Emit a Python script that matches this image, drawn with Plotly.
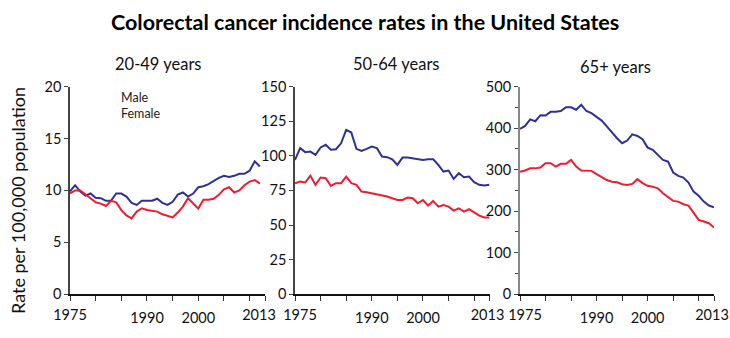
import plotly.graph_objects as go

years_a = list(range(1975, 2013))
years_b = list(range(1975, 2014))

male_2049 = [9.9, 10.5, 9.9, 9.5, 9.7, 9.3, 9.25, 9.0, 9.0, 9.7, 9.7, 9.4, 8.8, 8.6, 9.0, 9.0,
             9.0, 9.2, 8.8, 8.6, 8.9, 9.6, 9.8, 9.4, 9.7, 10.3, 10.4, 10.6, 10.9, 11.2, 11.4, 11.3,
             11.4, 11.6, 11.6, 11.9, 12.8, 12.3]
female_2049 = [9.7, 10.0, 10.0, 9.66, 9.25, 8.86, 8.73, 8.5, 9.0, 8.86, 8.1, 7.6, 7.3, 7.96, 8.28,
               8.12, 8.06, 7.96, 7.7, 7.58, 7.4, 7.87, 8.44, 9.25, 8.7, 8.25, 9.1, 9.1, 9.2, 9.57,
               10.1, 10.3, 9.8, 10.0, 10.5, 10.85, 11.0, 10.65]

male_5064 = [97, 105.5, 102.6, 103, 100.6, 106, 107.9, 104.3, 104.7, 109, 118.7, 116.8, 105, 103.5,
             105, 106.7, 105.5, 99.4, 99, 97.5, 93.4, 98.7, 98.7, 98.2, 97.8, 97, 97.5, 97.5, 93.4,
             88.6, 89.3, 83.3, 87.4, 84.5, 85, 80.9, 79, 78.5, 79]
female_5064 = [80.2, 81.4, 80.7, 85.7, 79, 84.3, 83.8, 78.3, 80.2, 80.2, 85, 80.2, 79, 74.2, 73.7,
               73, 71.8, 71.5, 70.6, 69.3, 68.1, 68.1, 69.8, 69.3, 65.7, 68.1, 64, 67.4, 63.3, 64.5,
               63.3, 60.4, 62.1, 59.7, 61.4, 59.2, 56.8, 55.4, 55.4]

male_65 = [398, 405, 421, 416.5, 431, 430, 439, 439, 441, 450, 450, 444, 456, 441, 436, 428, 418,
           404, 389, 375.6, 363.6, 370, 385, 381, 373, 353, 347.5, 335.5, 323.5, 319.5, 293, 285,
           281, 269, 247, 237, 223, 213.5, 209.5]
female_65 = [295, 298, 303, 303, 305, 315.4, 315.4, 307.4, 314, 314, 323.5, 307.4, 298, 297, 297,
             289, 281, 275, 271, 269.7, 265, 263, 265.7, 277, 267.5, 261, 259, 255, 243, 233.5,
             224.7, 223, 216.7, 213.5, 197.4, 179, 175, 171, 160.5]

panel_titles = ["20-49 years", "50-64 years", "65+ years"]
y_ranges = [[0, 20], [0, 150], [0, 500]]
y_dticks = [5, 25, 100]
x_tickvals = [1975, 1980, 1985, 1990, 1995, 2000, 2005, 2010, 2013]
mid_labels = {1990: "1990", 2000: "2000"}
start_year, end_year = 1975, 2013

MALE_C = "#2e3192"
FEMALE_C = "#ee1c2e"
W, H = 730, 338
FONT = "Lato, 'Open Sans', sans-serif"

x_px = [(70, 265), (295, 489.5), (520, 714)]
y_bot, y_top = 294.3, 86.5
start_shift = [0, 5, 5]
end_shift = [-6, -2, -2]

fig = go.Figure()
data = [(years_a, male_2049, female_2049), (years_b, male_5064, female_5064), (years_b, male_65, female_65)]
for i, (yrs, m, f) in enumerate(data):
    ax = "" if i == 0 else str(i + 1)
    fig.add_trace(go.Scatter(x=yrs, y=m, mode="lines", line=dict(color=MALE_C, width=2),
                             xaxis="x" + ax, yaxis="y" + ax, showlegend=False))
    fig.add_trace(go.Scatter(x=yrs, y=f, mode="lines", line=dict(color=FEMALE_C, width=2),
                             xaxis="x" + ax, yaxis="y" + ax, showlegend=False))

layout = dict(width=W, height=H, margin=dict(l=0, r=0, t=0, b=0, autoexpand=False), autosize=False,
              plot_bgcolor="white", paper_bgcolor="white",
              font=dict(family=FONT, size=14, color="#111"))
ydom = [(H - y_bot) / H, (H - y_top) / H]
TF = dict(size=14.5, color="#111")
for i in range(3):
    ax = "" if i == 0 else str(i + 1)
    x0, x1 = x_px[i]
    dom = [x0 / W, x1 / W]
    yline_color = "#888888" if i == 2 else "#444444"
    yline_w = 2 if i == 2 else 1.5
    # main axis: line, ticks, middle labels
    layout["xaxis" + ax] = dict(domain=dom, range=[start_year, end_year], anchor="y" + ax,
                                showgrid=False, zeroline=False, showline=True, linecolor="#111",
                                linewidth=1.5, ticks="outside", ticklen=5, tickcolor="#333",
                                tickvals=x_tickvals,
                                ticktext=[mid_labels.get(v, "") for v in x_tickvals],
                                ticklabelstandoff=5, automargin=False,
                                tickfont=TF, fixedrange=True)
    # overlay axes carrying only the end labels, nudged apart as in the original
    for k, (yr, sh) in enumerate([(start_year, start_shift[i]), (end_year, end_shift[i])]):
        name = "xaxis" + str(4 + 2 * i + k)
        layout[name] = dict(domain=dom, range=[start_year, end_year], anchor="y" + ax,
                            overlaying="x" + ax, showgrid=False, zeroline=False, showline=False,
                            ticks="", tickvals=[yr], ticktext=[str(yr)], ticklabelshift=sh,
                            ticklabelstandoff=10, automargin=False, side="bottom",
                            tickfont=TF, fixedrange=True)
    ydict = dict(domain=ydom, range=y_ranges[i], anchor="x" + ax, showgrid=False,
                 zeroline=False, showline=True, linecolor=yline_color, linewidth=yline_w,
                 ticks="outside", ticklen=4, tickcolor="#444", dtick=y_dticks[i], tick0=0,
                 tickfont=TF, fixedrange=True, automargin=False)
    if i == 2:
        ydict["minor"] = dict(dtick=50, ticks="outside", ticklen=3, tickcolor="#444", showgrid=False)
    layout["yaxis" + ax] = ydict
fig.update_layout(**layout)

# invisible traces so the overlay axes are drawn
for i in range(3):
    ax = "" if i == 0 else str(i + 1)
    for k in range(2):
        fig.add_trace(go.Scatter(x=[start_year], y=[None], mode="lines", showlegend=False,
                                 hoverinfo="skip", xaxis="x" + str(4 + 2 * i + k), yaxis="y" + ax))

ann = [
    dict(text="<b>Colorectal cancer incidence rates in the United States</b>", x=365 / W, y=(H - 22) / H,
         font=dict(size=21.5, color="#000")),
    dict(text=panel_titles[0], x=158 / W, y=(H - 64) / H, font=dict(size=16.5, color="#111")),
    dict(text=panel_titles[1], x=396 / W, y=(H - 64) / H, font=dict(size=16.5, color="#111")),
    dict(text=panel_titles[2], x=615 / W, y=(H - 67) / H, font=dict(size=16.5, color="#111")),
    dict(text="Rate per 100,000 population", x=18 / W, y=(H - 201) / H, textangle=-90,
         font=dict(size=18, color="#111")),
]
for a in ann:
    a.update(xref="paper", yref="paper", showarrow=False, xanchor="center", yanchor="middle")
    fig.add_annotation(**a)
fig.add_annotation(text="Male<br>Female", xref="paper", yref="paper", x=119 / W, y=(H - 105) / H,
                   xanchor="left", yanchor="middle", align="left", showarrow=False,
                   font=dict(size=12.5, color="#222"))

fig.write_html("out.html")
